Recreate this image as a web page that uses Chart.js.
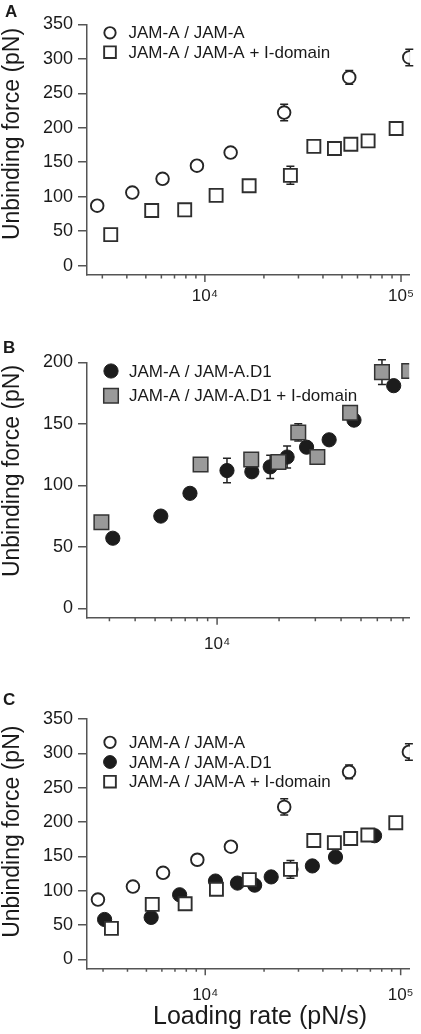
<!DOCTYPE html>
<html>
<head>
<meta charset="utf-8">
<script src="https://cdn.jsdelivr.net/npm/chart.js"></script>
<style>
  body { margin: 0; background: #fff; }
  canvas { position: absolute; left: 0; }
</style>
</head>
<body>
<canvas id="panelA" width="421" height="305" style="top:0px"></canvas>
<canvas id="panelB" width="421" height="355" style="top:305px"></canvas>
<canvas id="panelC" width="421" height="374" style="top:660px"></canvas>
<script>
// loading rate (pN/s) -> unbinding force (pN)
const jamRate = [2825, 4266, 6085, 9110, 13530, 25360, 54450, 110200];
const jamForce = [87, 106, 126, 145, 164, 222, 273, 302];
const jamErr = [0, 0, 0, 0, 0, 12, 10, 12];

const idomRate = [3311, 5357, 7891, 11410, 16810, 27290, 35940, 45780, 55490, 67950, 94420];
const idomForce = [45, 80, 81, 102, 116, 131, 173, 170, 176, 181, 199];
const idomErr = [0, 0, 0, 0, 0, 13, 0, 0, 0, 0, 0];

const d1Rate = [3116, 5330, 7384, 11170, 14750, 18110, 21880, 27200, 35010, 46220, 72050];
const d1Force = [57, 75, 93.5, 112, 111, 115, 123, 131, 137, 153, 181];
const d1Err = [0, 0, 0, 10, 0, 9.5, 9, 0, 0, 0, 0];

const d1IdomRate = [2743, 8315, 14650, 19860, 24790, 30690, 44260, 63200, 85700];
const d1IdomForce = [70, 117, 121, 119, 143, 123, 159, 192, 193];
const d1IdomErr = [0, 0, 5, 0, 7, 0, 5, 10, 0];

// D1 set as replotted in panel C
const d1cRate = [3055, 5287, 7395, 11280, 14620, 17900, 21750, 27440, 35330, 46400, 73530];
const d1cForce = [58, 61, 94, 114, 111, 108, 120, 131, 136, 149, 180];

const rateTicks = [3000, 4000, 5000, 6000, 7000, 8000, 9000, 10000,
  20000, 30000, 40000, 50000, 60000, 70000, 80000, 90000, 100000];
const decadeLabels = {10000: '10⁴', 100000: '10⁵'};
const forceTicksA = [0, 50, 100, 150, 200, 250, 300, 350];
const forceTicksB = [0, 50, 100, 150, 200];

const FONT = '"Liberation Sans", Arial, Helvetica, sans-serif';
const ink = '#1a1a1a';
const axisColor = '#555';

function points(rate, force) {
  return rate.map((r, i) => ({x: r, y: force[i]}));
}

function marker(style, radius, fill, edge, width) {
  return {
    pointStyle: style, pointRadius: radius, pointHoverRadius: radius,
    pointBackgroundColor: fill, backgroundColor: fill,
    pointBorderColor: edge, borderColor: edge,
    pointBorderWidth: width, borderWidth: width
  };
}
const openCircle = marker('circle', 6.3, '#fff', '#262626', 1.9);
const openSquare = marker('rect', 9.2, '#fff', '#2e2e2e', 1.9);
const blackCircle = marker('circle', 7.1, '#1c1c1c', '#1c1c1c', 1);
const greySquare = marker('rect', 10.3, '#9a9a9a', '#333', 1.5);

// error bars from dataset.errors, behind the markers
const errorBars = {
  id: 'errorBars',
  beforeDatasetsDraw(chart) {
    const {ctx, scales: {x, y}} = chart;
    ctx.save();
    ctx.strokeStyle = '#222';
    ctx.lineWidth = 1.5;
    chart.data.datasets.forEach(ds => {
      if (!ds.errors) return;
      ds.data.forEach((p, j) => {
        const e = ds.errors[j];
        if (!e) return;
        const px = x.getPixelForValue(p.x);
        const top = y.getPixelForValue(p.y + e);
        const bot = y.getPixelForValue(p.y - e);
        ctx.beginPath();
        ctx.moveTo(px, top); ctx.lineTo(px, bot);
        ctx.moveTo(px - 4, top); ctx.lineTo(px + 4, top);
        ctx.moveTo(px - 4, bot); ctx.lineTo(px + 4, bot);
        ctx.stroke();
      });
    });
    ctx.restore();
  }
};

// legend sitting inside the plot, top left
const insetLegend = {
  id: 'insetLegend',
  afterDraw(chart, args, opts) {
    const ctx = chart.ctx;
    ctx.save();
    chart.data.datasets.forEach((ds, row) => {
      const cy = opts.y + row * opts.step;
      ctx.fillStyle = ds.pointBackgroundColor;
      ctx.strokeStyle = ds.pointBorderColor;
      ctx.lineWidth = ds.pointBorderWidth;
      Chart.helpers.drawPoint(ctx, {
        pointStyle: ds.pointStyle,
        radius: ds.pointRadius * opts.scale,
        borderWidth: ds.pointBorderWidth
      }, opts.x, cy);
      ctx.fillStyle = ink;
      ctx.font = '17px ' + FONT;
      ctx.textAlign = 'left';
      ctx.textBaseline = 'middle';
      ctx.fillText(ds.label, opts.textX, cy + 1);
    });
    ctx.restore();
  }
};

// panel letter, axis titles and the log minor/major tick marks
const panelText = {
  id: 'panelText',
  afterDraw(chart, args, opts) {
    const ctx = chart.ctx;
    const xs = chart.scales.x;
    ctx.save();
    ctx.strokeStyle = axisColor;
    ctx.lineWidth = 1.5;
    ctx.beginPath();
    xs.ticks.forEach(t => {
      const px = xs.getPixelForValue(t.value);
      const len = decadeLabels[t.value] ? 7 : 3.5;
      ctx.moveTo(px, xs.top);
      ctx.lineTo(px, xs.top + len);
    });
    ctx.stroke();

    ctx.fillStyle = ink;
    ctx.font = 'bold 17px ' + FONT;
    ctx.textAlign = 'left';
    ctx.textBaseline = 'alphabetic';
    ctx.fillText(opts.letter, opts.letterX, opts.letterY);

    ctx.font = '23px ' + FONT;
    ctx.textAlign = 'center';
    ctx.textBaseline = 'middle';
    ctx.save();
    ctx.translate(opts.yTitleX, opts.yTitleY);
    ctx.rotate(-Math.PI / 2);
    ctx.fillText('Unbinding force (pN)', 0, 0);
    ctx.restore();

    if (opts.xTitle) {
      ctx.font = '25px ' + FONT;
      ctx.fillText(opts.xTitle, opts.xTitleX, opts.xTitleY);
    }
    ctx.restore();
  }
};

function makePanel(id, p) {
  return new Chart(document.getElementById(id), {
    type: 'scatter',
    data: {datasets: p.datasets},
    options: {
      responsive: false,
      animation: false,
      events: [],
      layout: {padding: {top: p.top, right: p.right, left: 0, bottom: 0}},
      plugins: {
        legend: {display: false},
        tooltip: {enabled: false},
        insetLegend: p.legend,
        panelText: p.text
      },
      scales: {
        x: {
          type: 'logarithmic',
          min: p.xMin,
          max: p.xMax,
          afterFit: s => { s.height = p.xHeight; s.paddingLeft = 0; s.paddingRight = 0; },
          afterBuildTicks: s => {
            s.ticks = rateTicks.filter(v => v >= p.xMin && v <= p.xMax)
              .map(v => ({value: v, major: !!decadeLabels[v]}));
          },
          grid: {display: false, drawTicks: false},
          border: {display: true, color: axisColor, width: 1.5},
          ticks: {
            autoSkip: false, maxRotation: 0, minRotation: 0,
            padding: p.xTickPad, color: ink,
            font: {family: FONT, size: 17},
            callback: v => decadeLabels[v] || ''
          }
        },
        y: {
          min: p.yMin,
          max: p.yMax,
          afterFit: s => { s.width = 87; s.paddingTop = 0; s.paddingBottom = 0; },
          afterBuildTicks: s => { s.ticks = p.yTicks.map(v => ({value: v})); },
          grid: {drawOnChartArea: false, drawTicks: true, tickLength: 9, color: axisColor, lineWidth: 1.5},
          border: {display: true, color: axisColor, width: 1.5},
          ticks: {padding: 5, color: ink, font: {family: FONT, size: 18}}
        }
      }
    },
    plugins: [errorBars, insetLegend, panelText]
  });
}

makePanel('panelA', {
  datasets: [
    {label: 'JAM-A / JAM-A', data: points(jamRate, jamForce), errors: jamErr, order: 1, ...openCircle},
    {label: 'JAM-A / JAM-A + I-domain', data: points(idomRate, idomForce), errors: idomErr, order: 0, ...openSquare}
  ],
  top: 24.3, right: 8, xHeight: 30, xTickPad: 11,
  xMin: 2506, xMax: 111000, yMin: -13.5, yMax: 350, yTicks: forceTicksA,
  legend: {x: 110, textX: 128.5, y: 32.8, step: 19.4, scale: 0.9},
  text: {letter: 'A', letterX: 5, letterY: 16.5, yTitleX: 12.5, yTitleY: 134}
});

makePanel('panelB', {
  datasets: [
    {label: 'JAM-A / JAM-A.D1', data: points(d1Rate, d1Force), errors: d1Err, order: 1, ...blackCircle},
    {label: 'JAM-A / JAM-A.D1 + I-domain', data: points(d1IdomRate, d1IdomForce), errors: d1IdomErr, order: 0, ...greySquare}
  ],
  top: 57.3, right: 9.3, xHeight: 42.3, xTickPad: 16,
  xMin: 2335, xMax: 85700, yMin: -7.6, yMax: 200, yTicks: forceTicksB,
  legend: {x: 111, textX: 129, y: 66, step: 24.7, scale: 1},
  text: {letter: 'B', letterX: 3, letterY: 48, yTitleX: 12.5, yTitleY: 166}
});

makePanel('panelC', {
  datasets: [
    {label: 'JAM-A / JAM-A', data: points(jamRate, jamForce), errors: jamErr, order: 2, ...openCircle},
    {label: 'JAM-A / JAM-A.D1', data: points(d1cRate, d1cForce), order: 1, ...blackCircle},
    {label: 'JAM-A / JAM-A + I-domain', data: points(idomRate, idomForce), errors: idomErr, order: 0, ...openSquare}
  ],
  top: 59, right: 7.7, xHeight: 65.7, xTickPad: 17,
  xMin: 2483, xMax: 111500, yMin: -13.1, yMax: 350, yTicks: forceTicksA,
  legend: {x: 110, textX: 129, y: 82.3, step: 19.7, scale: 0.9},
  text: {letter: 'C', letterX: 3, letterY: 45, yTitleX: 12.5, yTitleY: 171.7,
    xTitle: 'Loading rate (pN/s)', xTitleX: 260, xTitleY: 357}
});
</script>
</body>
</html>
